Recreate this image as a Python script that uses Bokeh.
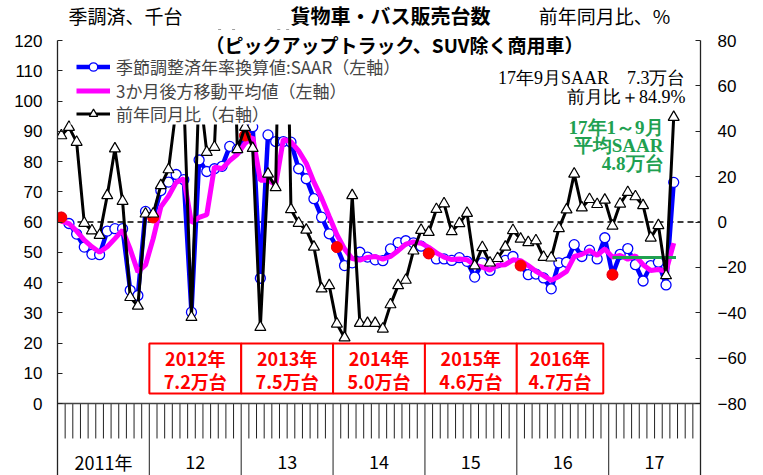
from bokeh.plotting import figure
from bokeh.layouts import column
from bokeh.models import (Range1d, LinearAxis, FixedTicker, Legend, LegendItem, Label,
                          ColumnDataSource, BoxAnnotation)
from bokeh.core.properties import value
from bokeh.embed import file_html
from bokeh.resources import INLINE

# ---------------- data (thousand units, SAAR; YoY in %) ----------------
saar_2011 = [61.5, 59.5, 56.0, 51.7, 49.3, 49.2, 57.0, 57.8, 57.8, 37.4, 35.7, 63.5]
saar_2012 = [61.5, 70.4, 73.2, 75.7, 74.0, 30.2, 80.5, 76.7, 77.6, 78.4, 85.0, 84.0]
saar_2013 = [88.6, 91.5, 41.4, 88.8, 86.6, 86.6, 86.4, 77.6, 74.3, 67.7, 61.6, 56.1]
saar_2014 = [51.7, 45.6, 46.5, 50.0, 48.4, 47.5, 47.2, 51.1, 53.2, 53.8, 53.1, 52.0]
saar_2015 = [49.6, 47.8, 47.8, 47.3, 48.2, 47.0, 41.8, 46.5, 44.0, 46.5, 47.3, 48.6]
saar_2016 = [45.6, 42.6, 42.8, 41.5, 37.9, 46.5, 46.7, 52.5, 48.6, 50.7, 47.8, 54.8]
saar_2017 = [42.6, 49.3, 51.2, 45.9, 40.5, 45.6, 46.7, 39.2, 73.1]

ma3_2011 = [60.3, 59.5, 57.0, 54.0, 51.8, 50.0, 51.8, 54.5, 57.3, 51.0, 43.5, 45.8]
ma3_2012 = [54.5, 65.0, 68.5, 73.1, 74.3, 59.8, 61.5, 62.4, 78.2, 77.6, 80.3, 82.4]
ma3_2013 = [86.0, 88.0, 73.8, 73.9, 72.3, 87.3, 86.5, 83.5, 79.4, 73.2, 67.9, 61.8]
ma3_2014 = [55.8, 51.1, 47.9, 47.4, 48.3, 48.6, 47.7, 48.6, 50.5, 52.7, 53.4, 53.0]
ma3_2015 = [51.6, 49.8, 48.4, 47.6, 47.8, 47.5, 45.7, 45.1, 44.1, 45.7, 45.9, 47.5]
ma3_2016 = [47.2, 45.6, 43.7, 42.3, 40.7, 42.0, 43.7, 48.6, 49.3, 50.6, 49.0, 51.1]
ma3_2017 = [48.4, 48.9, 47.7, 48.8, 45.9, 44.0, 44.3, 43.8, 53.0]

yoy_2011 = [38.1, 41.8, 35.2, -0.5, -3.8, -5.8, 11.7, 32.3, 9.2, -33.2, -37.0, 3.6]
yoy_2012 = [3.6, 16.1, 23.1, 50.0, 55.0, -42.0, 60.0, 30.8, 33.0, 110.0, 138.0, 32.0]
yoy_2013 = [41.8, 32.5, -46.4, 21.2, 15.2, 187.0, 5.5, -0.5, -3.5, -11.0, -29.4, -28.0]
yoy_2014 = [-44.9, -51.0, 11.7, -44.6, -44.6, -44.6, -47.1, -36.4, -28.0, -25.6, -12.7, -3.6]
yoy_2015 = [-4.5, 5.6, 8.1, -4.2, -0.6, 3.9, -19.3, -11.2, -18.0, -16.0, -11.0, -3.7]
yoy_2016 = [-7.5, -9.0, -8.2, -15.5, -15.8, -2.8, 5.4, 21.2, 6.3, 10.0, 7.8, 9.7]
yoy_2017 = [-1.7, 8.0, 13.1, 11.2, 7.3, -7.0, -1.5, -23.6, 46.2]

avg_2017_ytd = 48.3          # 17年1～9月 平均SAAR (thousand)

year_labels = ["2011年", "12", "13", "14", "15", "16", "17"]
box_years = ["2012年", "2013年", "2014年", "2015年", "2016年"]
box_totals = ["7.2万台", "7.5万台", "5.0万台", "4.6万台", "4.7万台"]
legend_labels = ["季節調整済年率換算値:SAAR（左軸）", "3か月後方移動平均値（左軸）", "前年同月比（右軸）"]

left_ticks = [0, 10, 20, 30, 40, 50, 60, 70, 80, 90, 100, 110, 120]
right_ticks = [-80, -60, -40, -20, 0, 20, 40, 60, 80]
right_tick_labels = ["−80", "−60", "−40", "−20", "0", "20", "40", "60", "80"]

saar = saar_2011 + saar_2012 + saar_2013 + saar_2014 + saar_2015 + saar_2016 + saar_2017
ma3 = ma3_2011 + ma3_2012 + ma3_2013 + ma3_2014 + ma3_2015 + ma3_2016 + ma3_2017
yoy = yoy_2011 + yoy_2012 + yoy_2013 + yoy_2014 + yoy_2015 + yoy_2016 + yoy_2017

n = len(saar)
xm = [i + 0.5 for i in range(n)]            # month centres (0 = Jan 2011 start)
jan_x = [xm[i] for i in range(0, n, 12)]
jan_y = [saar[i] for i in range(0, n, 12)]

JP = "Noto Sans CJK JP"
HEAD_H = 29

# ---------------- header (title row) ----------------
head = figure(width=763, height=HEAD_H, output_backend="svg", toolbar_location=None,
              x_range=Range1d(0, 763), y_range=Range1d(HEAD_H, 0),
              x_axis_location=None, y_axis_location=None,
              min_border=0, min_border_left=0, min_border_right=0,
              min_border_top=0, min_border_bottom=0)
head.outline_line_color = None
head.grid.visible = False
head.title.visible = False
head.text(x=[395], y=[14.5], text=["貨物車・バス販売台数"], text_align="center",
          text_baseline="middle", text_font=value(JP), text_font_style="bold",
          text_font_size="20px", text_color="black")
head.text(x=[13], y=[15], text=["季調済、千台"], text_align="left", text_baseline="middle",
          text_font=value(JP), text_font_size="19px", text_color="black")
head.text(x=[727], y=[15], text=["前年同月比、%"], text_align="right", text_baseline="middle",
          text_font=value(JP), text_font_size="19px", text_color="black")

# ---------------- main chart ----------------
PX_L, PX_R, PX_M = 3.025, 2.26875, 643 / 84      # px per unit (left, right, month)
BOTTOM_L, TOP_L = (403 - 475) / PX_L, (403 - HEAD_H) / PX_L
BOTTOM_R, TOP_R = (221.5 - 475) / PX_R, (221.5 - HEAD_H) / PX_R
p = figure(width=763, height=475 - HEAD_H, output_backend="svg", toolbar_location=None,
           x_range=Range1d(0, 84), y_range=Range1d(BOTTOM_L, TOP_L),
           x_axis_location=None,
           min_border_left=57, min_border_right=63, min_border_top=0, min_border_bottom=0)
p.outline_line_color = None
p.grid.visible = False
p.title.visible = False
p.extra_y_ranges = {"yoy": Range1d(BOTTOM_R, TOP_R)}

ly = p.yaxis[0]
ly.ticker = FixedTicker(ticks=left_ticks, minor_ticks=[])
ly.bounds = (BOTTOM_L, 120)

ry = LinearAxis(y_range_name="yoy", ticker=FixedTicker(ticks=right_ticks, minor_ticks=[]))
ry.major_label_overrides = {float(t): s for t, s in zip(right_ticks, right_tick_labels)}
ry.bounds = (BOTTOM_R, 80)
p.add_layout(ry, "right")

for ax, so in [(ly, 15), (ry, 17)]:
    ax.major_tick_in = 5
    ax.major_tick_out = 0
    ax.minor_tick_in = 0
    ax.minor_tick_out = 0
    ax.axis_line_color = "#222222"
    ax.axis_line_width = 1.3
    ax.major_tick_line_color = "#222222"
    ax.major_label_text_font = "Liberation Sans"
    ax.major_label_text_font_size = "17px"
    ax.major_label_text_color = "black"
    ax.major_label_standoff = so

# bottom time axis drawn inside the frame
month_ticks = [m for m in range(1, 84) if m % 12 != 0]
year_bounds = [12, 24, 36, 48, 60, 72]
p.segment(x0=month_ticks, y0=[0] * len(month_ticks), x1=month_ticks,
          y1=[-11.57] * len(month_ticks), line_color="#222222", line_width=1)
p.segment(x0=year_bounds, y0=[0] * len(year_bounds), x1=year_bounds,
          y1=[BOTTOM_L] * len(year_bounds), line_color="#444444", line_width=1.2)
p.segment(x0=[0], y0=[0], x1=[84], y1=[0], line_color="#444444", line_width=1.6)
p.text(x=[6 + 12 * k for k in range(len(year_labels))], y=[-19.4] * len(year_labels),
       text=year_labels, text_align="center", text_baseline="middle",
       text_font=value(JP), text_font_size="18px", text_color="black")

# zero line of the right axis
p.segment(x0=[0], y0=[0], x1=[84], y1=[0], y_range_name="yoy",
          line_color="black", line_width=1.5, line_dash="6 4")

# yearly average boxes
box_left = [12 * (k + 1) for k in range(len(box_years))]
box_right = [12 * (k + 2) for k in range(len(box_years))]
box_right[-1] = 71.3
p.quad(left=box_left, right=box_right, bottom=[3.3] * 5, top=[19.8] * 5,
       fill_color="white", line_color="#FF0000", line_width=2)
box_cx = [(a + b) / 2 for a, b in zip(box_left, box_right)]
p.text(x=box_cx, y=[14.9] * 5, text=box_years, text_align="center", text_baseline="middle",
       text_font=value(JP), text_font_style="bold", text_font_size="18px",
       text_color="#FF0000")
p.text(x=box_cx, y=[7.6] * 5, text=box_totals, text_align="center", text_baseline="middle",
       text_font=value(JP), text_font_style="bold", text_font_size="18px",
       text_color="#FF0000")

# series
src = ColumnDataSource(dict(x=xm, saar=saar, ma3=ma3, yoy=yoy))
blue_line = p.line("x", "saar", source=src, line_color="#0000FF", line_width=4.5)
blue_pts = p.scatter("x", "saar", source=src, marker="circle", size=10,
                     fill_color="white", line_color="#0000FF", line_width=1.3)
mag_line = p.line("x", "ma3", source=src, line_color="#FF00FF", line_width=5)
p.scatter(jan_x, jan_y, marker="circle", size=11, fill_color="#FF0000", line_color="#FF0000")
p.line([xm[72], xm[80] + 0.3], [avg_2017_ytd, avg_2017_ytd], line_color="#20A050", line_width=3)
blk_line = p.line("x", "yoy", source=src, y_range_name="yoy", line_color="black", line_width=3)
blk_pts = p.scatter("x", "yoy", source=src, y_range_name="yoy", marker="triangle", size=11,
                    fill_color="white", line_color="black", line_width=1.2)

# white legend panel (hides the off-scale part of the lines, as in the original)
p.add_layout(BoxAnnotation(left=(70 - 57) / PX_M, right=(447 - 57) / PX_M,
                           bottom=(403 - 124) / PX_L, top=TOP_L,
                           fill_color="white", fill_alpha=1.0, line_color=None,
                           line_alpha=0.0))

# legend: one row per series so that row pitch matches the original
row_centres = [67, 90.5, 114]          # px from top of page
ITEM_H = 24.6
for lbl, rends, yc in zip(legend_labels, [[blue_line, blue_pts], [mag_line], [blk_line, blk_pts]],
                          row_centres):
    lg = Legend(items=[LegendItem(label=lbl, renderers=rends)],
                location=(19, 475 - yc - ITEM_H / 2))
    lg.label_text_font = JP
    lg.label_text_font_size = "17px"
    lg.label_height = 21
    lg.glyph_height = 21
    lg.glyph_width = 34
    lg.spacing = 0
    lg.padding = 0
    lg.margin = 0
    lg.label_standoff = 6
    lg.border_line_color = None
    lg.background_fill_alpha = 0.0
    p.add_layout(lg)

def lab(x, y, text, size, align="center", bold=False, color="black", font=JP):
    p.add_layout(Label(x=x, y=y, text=text, text_align=align, text_baseline="middle",
                       text_font=font, text_font_size=size,
                       text_font_style="bold" if bold else "normal", text_color=color))

lab((394 - 57) / PX_M, (403 - 43.5) / PX_L, "（ピックアップトラック、SUV除く商用車）", "19px", bold=True)
lab(82.04, 107.44, "17年9月SAAR　7.3万台", "18px", align="right", font="Liberation Serif")
lab(82.04, 101.16, "前月比＋84.9%", "18px", align="right", font="Liberation Serif")
lab(79.17, 91.24, "17年1～9月", "19px", align="right", bold=True, color="#20A050", font="Liberation Serif")
lab(79.17, 85.29, "平均SAAR", "19px", align="right", bold=True, color="#20A050", font="Liberation Serif")
lab(79.17, 79.34, "4.8万台", "19px", align="right", bold=True, color="#20A050", font="Liberation Serif")

layout = column(head, p, spacing=0)
open("out.html", "w").write(file_html(layout, INLINE))
